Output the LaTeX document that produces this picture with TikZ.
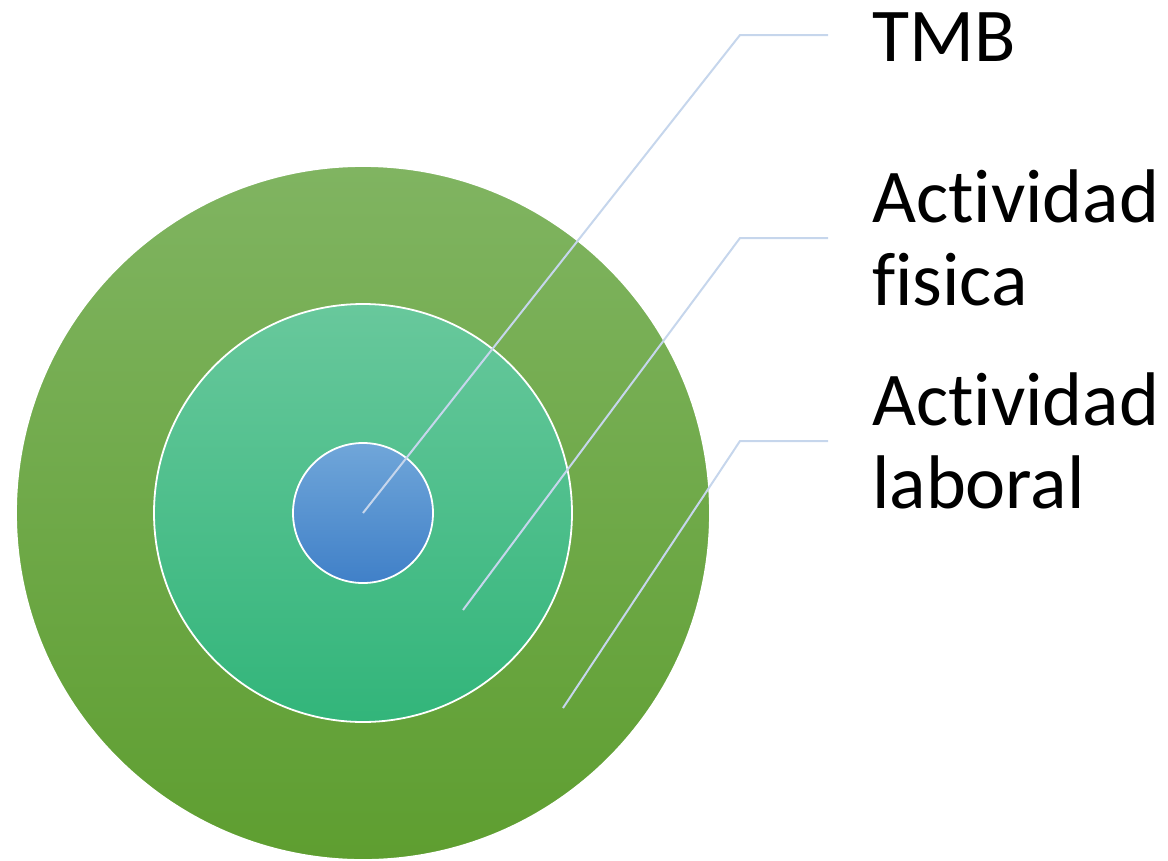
\documentclass[tikz,border=0pt]{standalone}
\usepackage{fontspec}
\setmainfont{Carlito}[Ligatures=NoCommon]
\begin{document}
\begin{tikzpicture}[x=1pt,y=-1pt,
  ring/.style={circle, draw=white, line width=1.8pt, inner sep=0pt, shading=axis, shading angle=0},
  leader/.style={draw={rgb,255:red,198;green,214;blue,236}, line width=2pt},
  label/.style={anchor=base west, inner sep=0pt, align=left, font=\fontsize{76}{83}\selectfont}]
  \useasboundingbox (0,0) rectangle (1168,860);
  % concentric rings
  \node[ring, minimum size=694pt, top color={rgb,255:red,128;green,180;blue,97}, bottom color={rgb,255:red,94;green,158;blue,48}] (outer) at (363,513) {};
  \node[ring, minimum size=418pt, top color={rgb,255:red,104;green,200;blue,156}, bottom color={rgb,255:red,50;green,181;blue,122}] (middle) at (363,513) {};
  \node[ring, minimum size=140pt, top color={rgb,255:red,112;green,166;blue,217}, bottom color={rgb,255:red,64;green,128;blue,200}] (inner) at (363,513) {};
  % leader anchor points
  \coordinate (p1) at (363,513);
  \coordinate (p2) at (463,610);
  \coordinate (p3) at (563,708);
  \coordinate (k1) at (740,35);
  \coordinate (k2) at (740,238);
  \coordinate (k3) at (740,441);
  \coordinate (e1) at (828,35);
  \coordinate (e2) at (828,238);
  \coordinate (e3) at (828,441);
  \draw[leader] (p1) -- (k1) -- (e1);
  \draw[leader] (p2) -- (k2) -- (e2);
  \draw[leader] (p3) -- (k3) -- (e3);
  % labels (base anchor sits on the last line)
  \node[label] (t1) at (872,61) {TMB};
  \node[label] (t2) at (872,305) {Actividad\\fisica};
  \node[label] (t3) at (872,508) {Actividad\\laboral};
\end{tikzpicture}
\end{document}
